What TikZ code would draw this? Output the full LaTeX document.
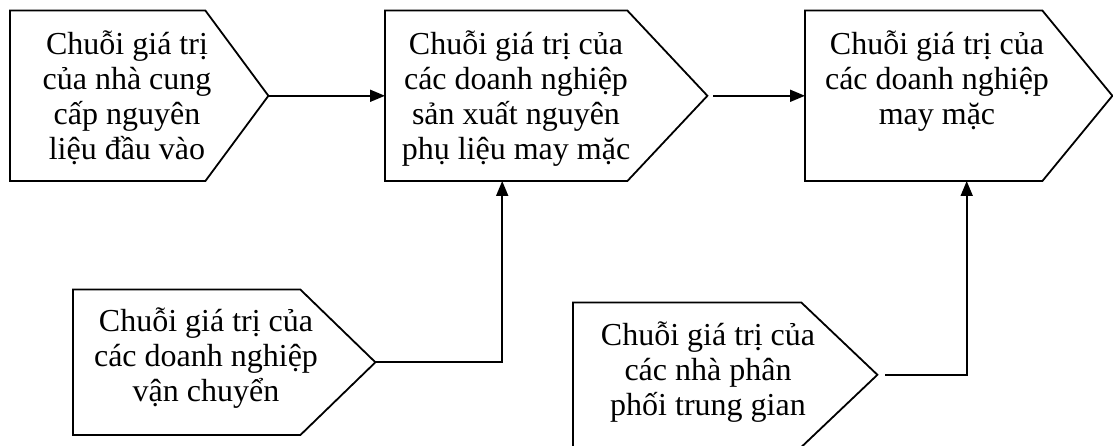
\documentclass[tikz,border=0pt]{standalone}
\usepackage{fontspec}
\setmainfont{Liberation Serif}
\usetikzlibrary{arrows.meta}

\tikzset{
  body/.style={inner sep=0pt, anchor=south west},
  outline/.style={draw, line width=1.8pt, line join=miter},
  stagetext/.style={align=center, inner sep=0pt, font=\fontsize{32}{35}\selectfont},
  link/.style={line width=1.8pt, -{Triangle[length=15pt,width=12pt]}}
}

\begin{document}
\begin{tikzpicture}[x=1pt,y=1pt]
\useasboundingbox (0,0) rectangle (1113,446);

% upper row
\node[body, minimum width=195pt, minimum height=170pt] (b1) at (10,265) {};
\coordinate (p1) at ([xshift=63pt]b1.east);
\draw[outline] (b1.north west) -- (b1.north east) -- (p1) -- (b1.south east) -- (b1.south west) -- cycle;
\node[stagetext] (t1) at (127,348) {Chuỗi giá trị\\của nhà cung\\cấp nguyên\\liệu đầu vào};

\node[body, minimum width=242pt, minimum height=170pt] (b2) at (385,265) {};
\coordinate (p2) at ([xshift=80pt]b2.east);
\draw[outline] (b2.north west) -- (b2.north east) -- (p2) -- (b2.south east) -- (b2.south west) -- cycle;
\node[stagetext] (t2) at (516,347) {Chuỗi giá trị của\\các doanh nghiệp\\sản xuất nguyên\\phụ liệu may mặc};

\node[body, minimum width=237pt, minimum height=170pt] (b3) at (805,265) {};
\coordinate (p3) at ([xshift=70pt]b3.east);
\draw[outline] (b3.north west) -- (b3.north east) -- (p3) -- (b3.south east) -- (b3.south west) -- cycle;
\node[stagetext, anchor=north] (t3) at (937,415) {Chuỗi giá trị của\\các doanh nghiệp\\may mặc};

% lower row
\node[body, minimum width=227pt, minimum height=145pt] (b4) at (73,11) {};
\coordinate (p4) at ([xshift=75pt]b4.east);
\draw[outline] (b4.north west) -- (b4.north east) -- (p4) -- (b4.south east) -- (b4.south west) -- cycle;
\node[stagetext] (t4) at (206,88) {Chuỗi giá trị của\\các doanh nghiệp\\vận chuyển};

\node[body, minimum width=228pt, minimum height=144pt] (b5) at (573,-1) {};
\coordinate (p5) at ([xshift=76pt]b5.east);
\draw[outline] (b5.north west) -- (b5.north east) -- (p5) -- (b5.south east) -- (b5.south west) -- cycle;
\node[stagetext] (t5) at (708,74) {Chuỗi giá trị của\\các nhà phân\\phối trung gian};

% connectors
\draw[link] (p1) -- (b2.west);
\draw[link] ([xshift=6pt]p2) -- (b3.west);
\draw[link] (p4) -| ([xshift=-4pt]b2.south);
\draw[link] ([xshift=8pt]p5) -| ([xshift=43pt]b3.south);

\end{tikzpicture}
\end{document}
